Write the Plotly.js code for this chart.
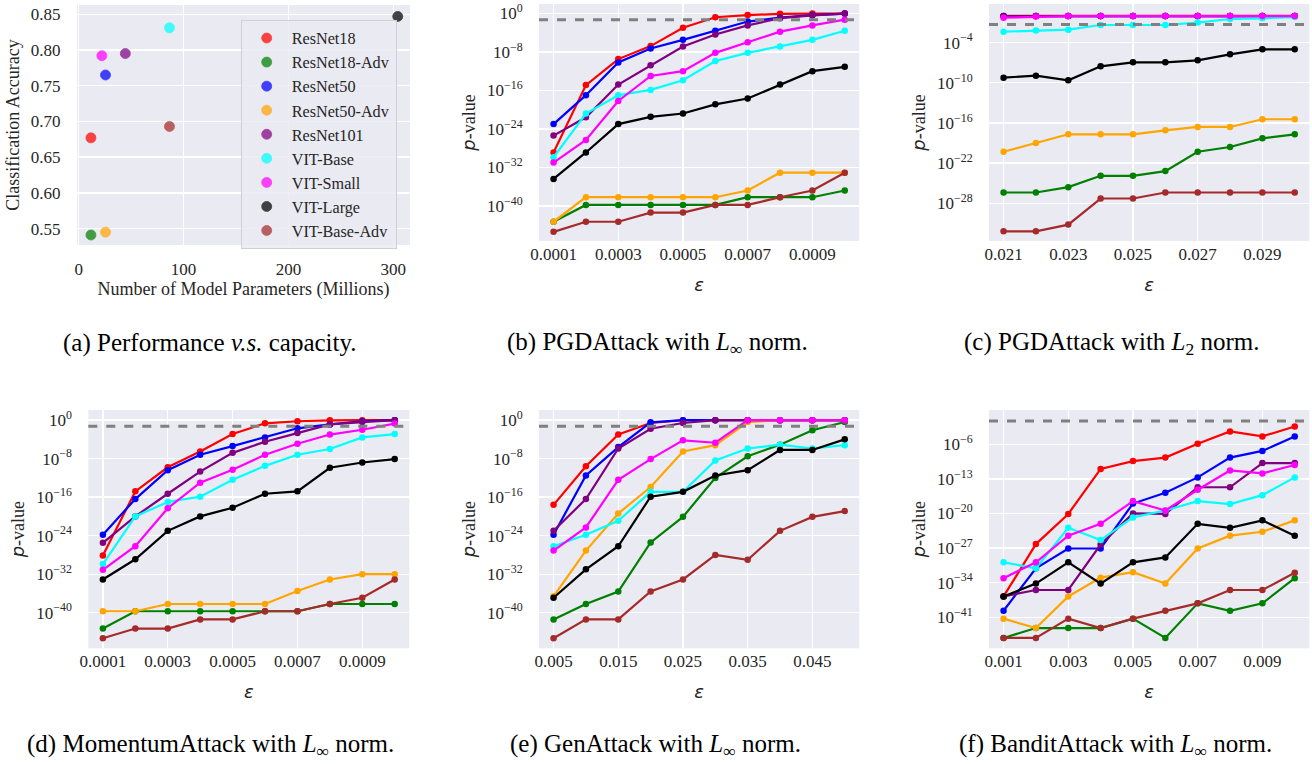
<!DOCTYPE html>
<html>
<head>
<meta charset="utf-8">
<script src="https://cdn.plot.ly/plotly-3.0.1.min.js"></script>
<style>html,body{margin:0;padding:0;background:#fff;}#chart{width:1312px;height:764px;}</style>
</head>
<body>
<div id="chart"></div>
<script>
// ---------------- DATA ----------------
const models = ["ResNet18","ResNet18-Adv","ResNet50","ResNet50-Adv","ResNet101","VIT-Base","VIT-Small","VIT-Large","VIT-Base-Adv"];
const modelColors = ["#ff0000","#008000","#0000ff","#ffa500","#800080","#00ffff","#ff00ff","#000000","#a52a2a"];

// (a) performance vs capacity
const paramsMillions = [11.7, 11.7, 25.6, 25.6, 44.5, 86.6, 22.1, 304.3, 86.6];
const accuracy = [0.677, 0.541, 0.765, 0.545, 0.795, 0.831, 0.792, 0.847, 0.693];

// epsilon grids
const epsPGDInf = [0.0001,0.0002,0.0003,0.0004,0.0005,0.0006,0.0007,0.0008,0.0009,0.0010];
const epsPGDL2 = [0.021,0.022,0.023,0.024,0.025,0.026,0.027,0.028,0.029,0.030];
const epsMomentum = [0.0001,0.0002,0.0003,0.0004,0.0005,0.0006,0.0007,0.0008,0.0009,0.0010];
const epsGen = [0.005,0.010,0.015,0.020,0.025,0.030,0.035,0.040,0.045,0.050];
const epsBandit = [0.001,0.002,0.003,0.004,0.005,0.006,0.007,0.008,0.009,0.010];

// log10(p-value), one row per model (same order as `models`)
const pgdInfLog10 = [
  [-28.9,-14.9,-9.5,-6.8,-3.0,-0.8,-0.35,-0.1,-0.05,-0.05],
  [-43.3,-39.8,-39.8,-39.8,-39.8,-39.8,-38.2,-38.2,-38.2,-36.8],
  [-23.0,-17.0,-10.2,-7.3,-5.5,-3.6,-1.7,-0.9,-0.35,-0.05],
  [-43.3,-38.2,-38.2,-38.2,-38.2,-38.2,-36.8,-33.1,-33.1,-33.1],
  [-25.4,-21.6,-14.8,-10.8,-6.9,-4.4,-2.5,-1.0,-0.4,-0.05],
  [-29.9,-20.8,-17.0,-15.9,-13.9,-9.9,-8.2,-6.9,-5.5,-3.6],
  [-31.0,-26.3,-18.2,-13.0,-12.0,-8.2,-6.0,-3.8,-2.5,-1.3],
  [-34.4,-28.9,-23.0,-21.5,-20.8,-18.9,-17.7,-14.8,-12.0,-11.1],
  [-45.4,-43.3,-43.3,-41.4,-41.4,-39.8,-39.8,-38.2,-36.8,-33.1]
];
const pgdL2Log10 = [
  [0.0,0.0,0.0,0.0,0.0,0.0,0.0,0.0,0.0,0.0],
  [-26.4,-26.4,-25.6,-23.9,-23.9,-23.2,-20.3,-19.6,-18.3,-17.7],
  [-0.02,-0.02,-0.02,-0.02,-0.02,-0.02,-0.02,-0.02,-0.02,-0.02],
  [-20.3,-19.0,-17.7,-17.7,-17.7,-17.1,-16.6,-16.6,-15.45,-15.45],
  [-0.03,-0.03,-0.03,-0.03,-0.03,-0.03,-0.03,-0.03,-0.03,-0.03],
  [-2.36,-2.2,-2.06,-1.36,-1.36,-1.36,-1.0,-0.46,-0.36,-0.17],
  [-0.26,-0.1,-0.02,-0.02,-0.02,-0.02,-0.02,-0.02,-0.02,-0.02],
  [-9.23,-8.93,-9.63,-7.54,-6.94,-6.94,-6.64,-5.74,-5.0,-5.0],
  [-32.2,-32.2,-31.2,-27.3,-27.3,-26.4,-26.4,-26.4,-26.4,-26.4]
];
const momentumLog10 = [
  [-28.1,-14.8,-9.8,-6.5,-2.9,-0.66,-0.24,-0.05,-0.02,-0.02],
  [-43.3,-39.7,-39.7,-39.7,-39.7,-39.7,-39.7,-38.2,-38.2,-38.2],
  [-23.8,-16.4,-10.4,-7.2,-5.4,-3.6,-1.7,-0.9,-0.24,-0.02],
  [-39.7,-39.7,-38.2,-38.2,-38.2,-38.2,-35.5,-33.1,-32.0,-32.0],
  [-25.5,-20.0,-15.3,-10.7,-6.8,-4.5,-2.7,-0.9,-0.4,-0.02],
  [-29.9,-20.0,-17.0,-15.9,-12.4,-9.5,-7.2,-6.0,-3.6,-2.9],
  [-31.1,-26.2,-18.3,-13.0,-10.3,-7.2,-4.9,-3.0,-2.0,-0.73],
  [-33.1,-28.9,-23.0,-20.0,-18.2,-15.3,-14.8,-9.9,-8.8,-8.1],
  [-45.3,-43.3,-43.3,-41.4,-41.4,-39.7,-39.7,-38.2,-36.9,-33.1]
];
const genLog10 = [
  [-17.6,-9.6,-3.0,-0.6,-0.02,-0.02,-0.02,-0.02,-0.02,-0.02],
  [-41.4,-38.2,-35.6,-25.4,-20.1,-12.0,-7.5,-5.1,-2.1,-0.4],
  [-23.8,-11.5,-5.6,-0.45,-0.02,-0.02,-0.02,-0.02,-0.02,-0.02],
  [-36.6,-27.1,-19.4,-13.9,-6.5,-5.2,-0.4,-0.02,-0.02,-0.02],
  [-23.0,-16.4,-5.9,-1.8,-0.6,-0.02,-0.02,-0.02,-0.02,-0.02],
  [-26.2,-23.8,-20.9,-14.9,-14.9,-8.4,-5.9,-5.1,-5.9,-5.2],
  [-27.1,-22.3,-12.4,-8.1,-4.2,-4.7,-0.02,-0.02,-0.02,-0.02],
  [-36.9,-31.0,-26.2,-15.9,-14.9,-11.5,-10.4,-6.2,-6.2,-4.0],
  [-45.3,-41.4,-41.4,-35.6,-33.1,-28.0,-29.0,-23.0,-20.1,-18.9]
];
const banditLog10 = [
  [-36.8,-26.2,-20.1,-11.0,-9.4,-8.7,-5.9,-3.4,-4.4,-2.4],
  [-45.2,-43.2,-43.2,-43.2,-41.3,-45.2,-38.2,-39.7,-38.2,-33.1],
  [-39.7,-31.1,-27.1,-27.1,-18.0,-15.8,-12.7,-8.7,-7.35,-4.4],
  [-41.3,-43.2,-36.8,-33.0,-31.9,-34.2,-27.1,-24.5,-23.7,-21.4],
  [-36.8,-35.5,-35.5,-26.3,-20.0,-20.1,-14.7,-14.7,-9.8,-9.8],
  [-29.9,-31.1,-22.9,-25.4,-20.8,-19.4,-17.5,-18.1,-16.3,-12.7],
  [-33.1,-29.9,-24.5,-22.1,-17.5,-19.4,-15.2,-11.3,-11.9,-10.2],
  [-36.8,-34.2,-29.9,-34.2,-29.9,-28.9,-22.1,-22.9,-21.4,-24.5],
  [-45.2,-45.2,-41.3,-43.2,-41.3,-39.7,-38.2,-35.5,-35.5,-32.0]
];

const significanceLevel = 0.05;

// tick labels
const accTicks = [0.55,0.60,0.65,0.70,0.75,0.80,0.85];
const paramTicks = [0,100,200,300];
const tickPGDInf = [0.0001,0.0003,0.0005,0.0007,0.0009];
const tickPGDInfText = ["0.0001","0.0003","0.0005","0.0007","0.0009"];
const tickPGDL2 = [0.021,0.023,0.025,0.027,0.029];
const tickPGDL2Text = ["0.021","0.023","0.025","0.027","0.029"];
const tickGen = [0.005,0.015,0.025,0.035,0.045];
const tickGenText = ["0.005","0.015","0.025","0.035","0.045"];
const tickBandit = [0.001,0.003,0.005,0.007,0.009];
const tickBanditText = ["0.001","0.003","0.005","0.007","0.009"];
const pExpA = [0,-8,-16,-24,-32,-40];
const pExpL2 = [-4,-10,-16,-22,-28];
const pExpBandit = [-6,-13,-20,-27,-34,-41];

const captions = [
  "(a) Performance <i>v.s.</i> capacity.",
  "(b) PGDAttack with <i>L</i><sub>∞</sub> norm.",
  "(c) PGDAttack with <i>L</i><sub>2</sub> norm.",
  "(d) MomentumAttack with <i>L</i><sub>∞</sub> norm.",
  "(e) GenAttack with <i>L</i><sub>∞</sub> norm.",
  "(f) BanditAttack with <i>L</i><sub>∞</sub> norm."
];

// ---------------- BUILD ----------------
const W = 1312, H = 764;
const SERIF = "Liberation Serif, Times New Roman, serif";
const SANS = "DejaVu Sans, sans-serif";
const TXT = "#262626";

function px(x0, x1) { return [x0 / W, x1 / W]; }
function py(top, bottom) { return [1 - bottom / H, 1 - top / H]; }

const traces = [];
models.forEach((m, i) => {
  traces.push({
    type: "scatter", mode: "markers", x: [paramsMillions[i]], y: [accuracy[i]],
    name: m, xaxis: "x", yaxis: "y",
    marker: { size: 10, color: modelColors[i], opacity: 0.72, line: { width: 0.8, color: modelColors[i] } }
  });
});

const panels = [
  { eps: epsPGDInf, vals: pgdInfLog10, ax: "2" },
  { eps: epsPGDL2, vals: pgdL2Log10, ax: "3" },
  { eps: epsMomentum, vals: momentumLog10, ax: "4" },
  { eps: epsGen, vals: genLog10, ax: "5" },
  { eps: epsBandit, vals: banditLog10, ax: "6" }
];
panels.forEach(p => {
  models.forEach((m, i) => {
    traces.push({
      type: "scatter", mode: "lines+markers", x: p.eps,
      y: p.vals[i].map(v => Math.pow(10, v)),
      name: m, showlegend: false, xaxis: "x" + p.ax, yaxis: "y" + p.ax,
      line: { color: modelColors[i], width: 2.2 },
      marker: { color: modelColors[i], size: 6.5 }
    });
  });
});

function powLabels(exps) {
  return exps.map(e => "10<sup>" + (e < 0 ? "\u2212" + (-e) : e) + "</sup>");
}

const tickFont = { family: SERIF, size: 17, color: TXT };
const common = {
  showgrid: true, gridcolor: "#ffffff", gridwidth: 1.3, zeroline: false, showline: false,
  ticks: "outside", tickcolor: "rgba(0,0,0,0)", tickfont: tickFont, fixedrange: true
};

function xAx(domain, anchor, range, tv, tt, title) {
  return Object.assign({}, common, {
    domain: domain, anchor: anchor, range: range, tickvals: tv, ticktext: tt,
    ticks: "", ticklen: 0, ticklabelstandoff: 1,
    title: title
  });
}
function yAx(domain, anchor, range, exps) {
  return Object.assign({}, common, {
    domain: domain, anchor: anchor, type: "log", range: range,
    tickvals: exps.map(e => Math.pow(10, e)), ticktext: powLabels(exps), ticklen: 12,
    title: { text: '<span style="font-family:DejaVu Sans"><i>p</i></span>-value', font: { family: SERIF, size: 18, color: TXT }, standoff: 6 }
  });
}
const epsTitle = { text: "<i>ε</i>", font: { family: SANS, size: 18, color: TXT }, standoff: 15 };

const topRow = py(4, 241), botRow = py(410, 648.3);
const colB = px(539, 859.3), colC = px(989, 1309.3);

const layout = {
  width: W, height: H,
  margin: { l: 0, r: 0, t: 0, b: 0 },
  paper_bgcolor: "#ffffff", plot_bgcolor: "#eaeaf2",
  font: { family: SERIF, color: TXT },
  showlegend: true,
  legend: {
    x: 240.7 / W, y: 1 - 20 / H, xanchor: "left", yanchor: "top",
    bgcolor: "rgba(234,234,242,0.85)", bordercolor: "#cfcfd8", borderwidth: 1,
    font: { family: SERIF, size: 16.2, color: TXT }, itemwidth: 40, tracegroupgap: 0
  },
  xaxis: Object.assign({}, common, {
    domain: px(77, 410), anchor: "y", range: [-1.6, 316], tickvals: paramTicks, ticklen: 9,
    title: { text: "Number of Model Parameters (Millions)", font: { family: SERIF, size: 18, color: TXT }, standoff: 0 }
  }),
  yaxis: Object.assign({}, common, {
    domain: py(5, 245), anchor: "x", range: [0.527, 0.863], tickvals: accTicks,
    ticktext: accTicks.map(v => v.toFixed(2)), ticklen: 12,
    title: { text: "Classification Accuracy", font: { family: SERIF, size: 18, color: TXT }, standoff: 6 }
  }),
  xaxis2: xAx(colB, "y2", [0.000055, 0.001045], tickPGDInf, tickPGDInfText, epsTitle),
  yaxis2: yAx(topRow, "x2", [-47.3, 1.95], pExpA),
  xaxis3: xAx(colC, "y3", [0.02055, 0.03045], tickPGDL2, tickPGDL2Text, epsTitle),
  yaxis3: yAx(topRow, "x3", [-33.65, 1.78], pExpL2),
  xaxis4: xAx(px(88.3, 409.3), "y4", [0.000055, 0.001045], tickPGDInf, tickPGDInfText, epsTitle),
  yaxis4: yAx(botRow, "x4", [-47.4, 2.1], pExpA),
  xaxis5: xAx(colB, "y5", [0.00275, 0.05225], tickGen, tickGenText, epsTitle),
  yaxis5: yAx(botRow, "x5", [-47.4, 2.1], pExpA),
  xaxis6: xAx(colC, "y6", [0.00055, 0.01045], tickBandit, tickBanditText, epsTitle),
  yaxis6: yAx(botRow, "x6", [-47.3, 0.94], pExpBandit),
  shapes: ["2","3","4","5","6"].map(a => ({
    type: "line", xref: "x" + a + " domain", x0: 0, x1: 1, yref: "y" + a,
    y0: significanceLevel, y1: significanceLevel,
    line: { color: "#808080", width: 3, dash: "dash" }, layer: "above"
  })),
  annotations: captions.map((c, i) => ({
    text: c, xref: "paper", yref: "paper", showarrow: false,
    x: [210, 657, 1112, 210, 655, 1115][i] / W,
    y: 1 - [343, 343, 343, 745, 745, 745][i] / H,
    xanchor: "center", yanchor: "middle",
    font: { family: SERIF, size: 25, color: "#000000" }
  }))
};

Plotly.newPlot("chart", traces, layout, { staticPlot: true, displayModeBar: false });
</script>
</body>
</html>
